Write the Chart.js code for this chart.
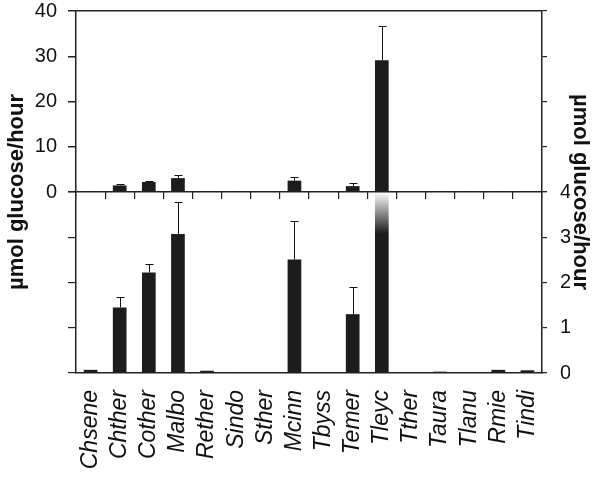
<!DOCTYPE html>
<html>
<head>
<meta charset="utf-8">
<script src="https://cdn.jsdelivr.net/npm/chart.js"></script>
<style>
  body { margin: 0; background: #fff; }
  #wrap { position: relative; width: 600px; height: 477px; }
</style>
</head>
<body>
<div id="wrap"><canvas id="glucoseChart"></canvas></div>
<script>
// glucose release per strain, broken axis (top 0-40, bottom 0-4)
var strains    = ["Chsene", "Chther", "Cother", "Malbo", "Rether", "Sindo", "Sther", "Mcinn",
                  "Tbyss", "Temer", "Tleyc", "Tther", "Taura", "Tlanu", "Rmie", "Tindi"];
var glucose    = [0.07, 1.45, 2.22, 3.07, 0.05, 0.02, 0, 2.51, 0, 1.30, 29.1, 0, 0.03, 0.01, 0.07, 0.06];
var glucoseErr = [0, 0.24, 0.18, 0.72, 0, 0, 0, 0.85, 0, 0.59, 7.5, 0, 0, 0, 0, 0];
var topTicks    = [0, 10, 20, 30, 40];
var bottomTicks = [0, 1, 2, 3, 4];
var yTitle      = "\u00b5mol glucose/hour";

var barColor  = "#1c1c1c";
var lineColor = "#222222";
var fontFam   = "Arial, 'Liberation Sans', Helvetica, sans-serif";

// draw error bars (upper half only) inside the own axis band
var errorBarPlugin = {
    id: "errorBars",
    afterDatasetDraw: function(chart, args) {
        var ds = chart.data.datasets[args.index];
        if (!ds.errors) { return; }
        var yScale = args.meta.yScale;
        var ctx    = chart.ctx;
        ctx.save();
        ctx.beginPath();
        ctx.rect(chart.chartArea.left, yScale.top, chart.chartArea.width, yScale.height);
        ctx.clip();
        ctx.strokeStyle = "#111";
        ctx.lineWidth   = 1;
        args.meta.data.forEach(function(bar, i) {
            var err = ds.errors[i];
            if (!err) { return; }
            var x  = Math.round(bar.x) + 0.5;
            var yE = Math.round(yScale.getPixelForValue(ds.data[i] + err)) + 0.5;
            ctx.beginPath();
            ctx.moveTo(x, bar.y);
            ctx.lineTo(x, yE);
            ctx.moveTo(x - 4, yE);
            ctx.lineTo(x + 4, yE);
            ctx.stroke();
        });
        ctx.restore();
    }
};

// fixed box sizes; the stacked panels only need label room at the outer ends
function fixBox(w, padTop, padBottom) {
    return function(scale) {
        scale.width = w;
        if (padTop !== undefined)    { scale.paddingTop = padTop; }
        if (padBottom !== undefined) { scale.paddingBottom = padBottom; }
    };
}
function fixHeight(h) { return function(scale) { scale.height = h; }; }

// bars cut by the break fade out to the top of the lower panel
function bottomBarColor(c) {
    var s = c.chart.scales.yBot;
    if (!s || c.type !== "data" || glucose[c.dataIndex] <= s.max) { return barColor; }
    var y0 = s.getPixelForValue(s.max);
    var y1 = s.getPixelForValue(s.max * 0.77);
    if (!isFinite(y0) || !isFinite(y1) || y0 === y1) { return barColor; }
    var g = c.chart.ctx.createLinearGradient(0, y0, 0, y1);
    g.addColorStop(0, "rgba(28,28,28,0.0)");
    g.addColorStop(1, barColor);
    return g;
}

var tickFont  = { family: fontFam, size: 20, lineHeight: 1.1 };
var titleFont = { family: fontFam, size: 22, weight: "bold" };

var config = {
    type: "bar",
    data: {
        labels: strains,
        datasets: [
            {
                label: "top",
                data: glucose,
                errors: glucoseErr,
                yAxisID: "yTop",
                backgroundColor: barColor,
                grouped: false,
                barPercentage: 0.47,
                categoryPercentage: 1.0
            },
            {
                label: "bottom",
                data: glucose,
                errors: glucoseErr,
                yAxisID: "yBot",
                backgroundColor: bottomBarColor,
                grouped: false,
                barPercentage: 0.47,
                categoryPercentage: 1.0
            }
        ]
    },
    options: {
        responsive: true,
        maintainAspectRatio: false,
        animation: false,
        layout: { padding: 0 },
        plugins: {
            legend:  { display: false },
            tooltip: { enabled: false }
        },
        scales: {
            x: {
                type: "category",
                position: "bottom",
                offset: true,
                grid: { display: false },
                border: { display: true, color: lineColor, width: 1.5 },
                ticks: {
                    autoSkip: false, minRotation: 90, maxRotation: 90, padding: 9,
                    color: "#111",
                    font: { family: fontFam, size: 23, style: "italic" }
                },
                afterFit: fixHeight(104)
            },
            xSep: {
                type: "category",
                position: { yTop: 0 },
                offset: true,
                grid: { offset: true, drawOnChartArea: false, drawTicks: true, tickLength: 7, tickColor: lineColor, lineWidth: 1.2 },
                border: { display: false },
                ticks: { display: false }
            },
            yTitleL: {
                type: "linear", position: "left", weight: 5,
                min: 0, max: 1,
                grid: { display: false }, border: { display: false },
                ticks: { display: false },
                title: { display: true, text: yTitle, color: "#111", font: titleFont, padding: { top: 4, bottom: 0 } },
                afterFit: fixBox(30, 0, 0)
            },
            yTop: {
                type: "linear", position: "left", stack: "L", stackWeight: 1, weight: 1,
                min: topTicks[0], max: topTicks[topTicks.length - 1],
                grid: {
                    color: function(c) { return (c.tick && (c.tick.value === topTicks[0] || c.tick.value === topTicks[topTicks.length - 1])) ? lineColor : "rgba(0,0,0,0)"; },
                    lineWidth: 1.5, tickColor: lineColor, tickLength: 8
                },
                border: { display: true, color: lineColor, width: 1.5 },
                ticks: { stepSize: topTicks[1] - topTicks[0], padding: 11, color: "#111", font: tickFont },
                afterFit: fixBox(46, 11, 0)
            },
            yBotL: {
                type: "linear", position: "left", stack: "L", stackWeight: 1, weight: 0,
                min: bottomTicks[0], max: bottomTicks[bottomTicks.length - 1],
                grid: { drawOnChartArea: false, tickColor: lineColor, tickLength: 8, lineWidth: 1.2 },
                border: { display: true, color: lineColor, width: 1.5 },
                ticks: { display: false, stepSize: 1 },
                afterFit: fixBox(46, 0, 0)
            },
            yTopR: {
                type: "linear", position: "right", stack: "R", stackWeight: 1, weight: 0,
                min: topTicks[0], max: topTicks[topTicks.length - 1],
                grid: { drawOnChartArea: false, tickColor: lineColor, tickLength: 5, lineWidth: 1.2 },
                border: { display: true, color: lineColor, width: 1.5 },
                ticks: { display: false, stepSize: topTicks[1] - topTicks[0] },
                afterFit: fixBox(28, 0, 0)
            },
            yBot: {
                type: "linear", position: "right", stack: "R", stackWeight: 1, weight: 1,
                min: bottomTicks[0], max: bottomTicks[bottomTicks.length - 1],
                grid: { drawOnChartArea: false, tickColor: lineColor, tickLength: 5, lineWidth: 1.2 },
                border: { display: true, color: lineColor, width: 1.5 },
                ticks: { stepSize: bottomTicks[1] - bottomTicks[0], padding: 13, color: "#111", font: tickFont },
                afterFit: fixBox(28, 0)
            },
            yTitleR: {
                type: "linear", position: "right", weight: 5,
                min: 0, max: 1,
                grid: { display: false }, border: { display: false },
                ticks: { display: false },
                title: { display: true, text: yTitle, color: "#111", font: titleFont, padding: { top: 7, bottom: 0 } },
                afterFit: fixBox(30, 0, 0)
            }
        }
    },
    plugins: [errorBarPlugin]
};

new Chart(document.getElementById("glucoseChart"), config);
</script>
</body>
</html>
